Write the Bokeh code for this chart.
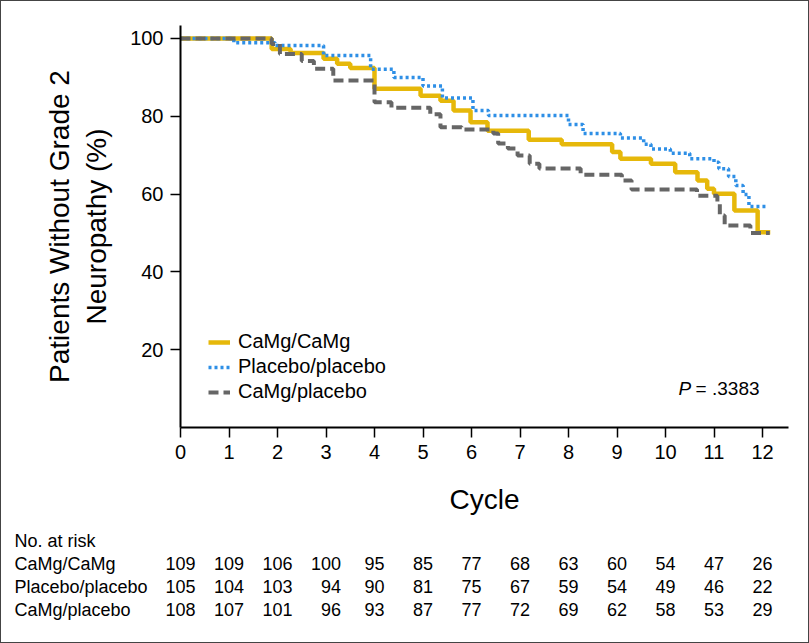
from bokeh.plotting import figure
from bokeh.models import Range1d, FixedTicker, Legend, LegendItem, Label, ColumnDataSource
from bokeh.embed import file_html
from bokeh.resources import INLINE
from bokeh.core.properties import value

# ---------------- data ----------------
series_names = ["CaMg/CaMg", "Placebo/placebo", "CaMg/placebo"]

camg_camg_t = [0, 1.88, 2.27, 2.95, 3.23, 3.5, 4.0, 4.95, 5.36, 5.63, 5.98, 6.33, 7.18, 7.86,
               8.9, 9.07, 9.7, 10.2, 10.66, 10.86, 11.0, 11.42, 11.9, 12.16]
camg_camg_s = [100, 97.3, 96.3, 94.8, 93.5, 92.4, 87.1, 85.3, 84.0, 81.5, 78.5, 76.3, 74.0, 72.8,
               70.8, 69.1, 67.8, 65.6, 63.5, 61.4, 60.1, 55.8, 50.2, 50.2]

placebo_t = [0, 1.1, 1.95, 2.95, 3.92, 4.4, 5.0, 5.4, 6.03, 6.35, 8.0, 8.3, 9.07, 9.55, 9.7,
             10.1, 10.5, 11.0, 11.1, 11.3, 11.45, 11.6, 11.72, 12.1]
placebo_s = [100, 98.9, 98.2, 95.6, 92.1, 90.0, 87.8, 84.7, 81.5, 80.2, 77.9, 75.6, 74.4, 72.8, 71.6,
             70.5, 69.1, 68.2, 66.5, 64.5, 62.2, 59.9, 56.8, 56.8]

camg_placebo_t = [0, 1.88, 2.05, 2.5, 2.75, 3.15, 4.0, 4.35, 5.15, 5.36, 5.8, 6.45, 6.55, 6.75,
                  6.95, 7.2, 7.4, 8.25, 9.1, 9.3, 10.65, 11.07, 11.12, 11.22, 11.75, 12.15]
camg_placebo_s = [100, 98.6, 96.0, 94.2, 92.2, 89.2, 83.6, 82.2, 80.5, 77.2, 76.6, 75.6, 73.0, 71.7,
                  69.9, 67.8, 66.6, 65.0, 63.5, 61.2, 59.6, 57.9, 54.5, 51.9, 50.0, 50.0]

x_ticks = [0, 1, 2, 3, 4, 5, 6, 7, 8, 9, 10, 11, 12]
y_ticks = [20, 40, 60, 80, 100]

risk_header = "No. at risk"
risk_cycles = [0, 1, 2, 3, 4, 5, 6, 7, 8, 9, 10, 11, 12]
risk_camg_camg = [109, 109, 106, 100, 95, 85, 77, 68, 63, 60, 54, 47, 26]
risk_placebo = [105, 104, 103, 94, 90, 81, 75, 67, 59, 54, 49, 46, 22]
risk_camg_placebo = [108, 107, 101, 96, 93, 87, 77, 72, 69, 62, 58, 53, 29]

p_value_text = "= .3383"

# ---------------- style ----------------
FONT = "Liberation Sans"
COLORS = ["#E6B80A", "#2E8FE6", "#666666"]
W = 809
TOP_H = 525
BOT_H = 118
LEFT = 180
RIGHT = 21
X_END = 12.536
Y_END = 103.34

p = figure(width=W, height=TOP_H, x_range=Range1d(0, X_END), y_range=Range1d(0, Y_END),
           output_backend="svg", toolbar_location=None,
           min_border_left=LEFT, min_border_right=RIGHT, min_border_top=25,
           min_border_bottom=TOP_H - 427)
p.grid.visible = False
p.outline_line_color = None

r1 = p.step(camg_camg_t, camg_camg_s, mode="after", line_color=COLORS[0], line_width=4.5)
r2 = p.step(placebo_t, placebo_s, mode="after", line_color=COLORS[1], line_width=3.5,
            line_dash="3 3")
r3 = p.step(camg_placebo_t, camg_placebo_s, mode="after", line_color=COLORS[2], line_width=4,
            line_dash="10 5")

for ax in (p.xaxis[0], p.yaxis[0]):
    ax.axis_line_width = 2
    ax.axis_line_color = "black"
    ax.major_tick_line_width = 1.5
    ax.major_tick_line_color = "black"
    ax.major_tick_out = 10
    ax.major_tick_in = 0
    ax.minor_tick_out = 0
    ax.minor_tick_in = 0
    ax.major_label_text_font = FONT
    ax.major_label_text_font_size = "20px"
    ax.major_label_text_color = "black"
    ax.major_label_standoff = 7
    ax.axis_label_text_font = FONT
    ax.axis_label_text_font_style = "normal"
    ax.axis_label_text_color = "black"

p.xaxis.ticker = FixedTicker(ticks=x_ticks)
p.yaxis.ticker = FixedTicker(ticks=y_ticks)
p.xaxis.axis_label = "Cycle"
p.xaxis.axis_label_text_font_size = "28px"
p.xaxis.axis_label_standoff = 22
p.yaxis.axis_label = "Patients Without Grade 2\nNeuropathy (%)"
p.yaxis.axis_label_text_font_size = "28px"
p.yaxis.axis_label_standoff = 15

p.add_layout(Label(x=10.27, y=10.0, text="P", text_align="left", text_baseline="middle",
                   text_font=FONT, text_font_size="19px", text_font_style="italic",
                   text_color="black"))
p.add_layout(Label(x=10.27, y=10.0, x_offset=17, text=p_value_text, text_align="left",
                   text_baseline="middle", text_font=FONT, text_font_size="19px",
                   text_color="black"))

legend = Legend(items=[LegendItem(label=series_names[0], renderers=[r1]),
                       LegendItem(label=series_names[1], renderers=[r2]),
                       LegendItem(label=series_names[2], renderers=[r3])],
                location=(28, 24))
legend.border_line_color = None
legend.background_fill_alpha = 0
legend.margin = 0
legend.padding = 0
legend.spacing = 2
legend.glyph_width = 22
legend.glyph_height = 20
legend.label_height = 20
legend.label_standoff = 8
legend.label_text_font = FONT
legend.label_text_font_size = "20px"
legend.label_text_color = "black"
p.add_layout(legend)

# ---------------- risk table ----------------
scale = (W - LEFT - RIGHT) / X_END
x0 = -LEFT / scale
ROW = 23.0
b = figure(width=W, height=BOT_H, x_range=Range1d(x0, (W - LEFT) / scale),
           y_range=Range1d(-15 / ROW + BOT_H / ROW, -15 / ROW),
           output_backend="svg", toolbar_location=None,
           x_axis_type=None, y_axis_type=None, min_border=0)
b.grid.visible = False
b.outline_line_color = None

rows = [risk_camg_camg, risk_placebo, risk_camg_placebo]
head = ColumnDataSource(dict(x=[x0] * 4, y=[0, 1, 2, 3], t=[risk_header] + series_names))
b.text(x="x", y="y", text="t", source=head, text_align="left", text_baseline="middle",
       text_font=value(FONT), text_font_size="18px", text_color="black", x_offset=14)

xs, ys, ts, offs = [], [], [], []
for j, c in enumerate(risk_cycles):
    maxlen = max(len(str(r[j])) for r in rows)
    for i, r in enumerate(rows):
        xs.append(c)
        ys.append(i + 1)
        ts.append(str(r[j]))
        offs.append(maxlen * 5.0)
nums = ColumnDataSource(dict(x=xs, y=ys, t=ts, o=offs))
b.text(x="x", y="y", text="t", x_offset="o", source=nums, text_align="right",
       text_baseline="middle", text_font=value(FONT), text_font_size="18px", text_color="black")

html = file_html([p, b], INLINE)
frame_css = ("<style>body::after{content:'';position:absolute;left:0;top:0;width:809px;"
             "height:643px;box-sizing:border-box;border:1px solid #444;pointer-events:none;"
             "z-index:10;}</style></head>")
html = html.replace("</head>", frame_css, 1)
open("out.html", "w").write(html)
